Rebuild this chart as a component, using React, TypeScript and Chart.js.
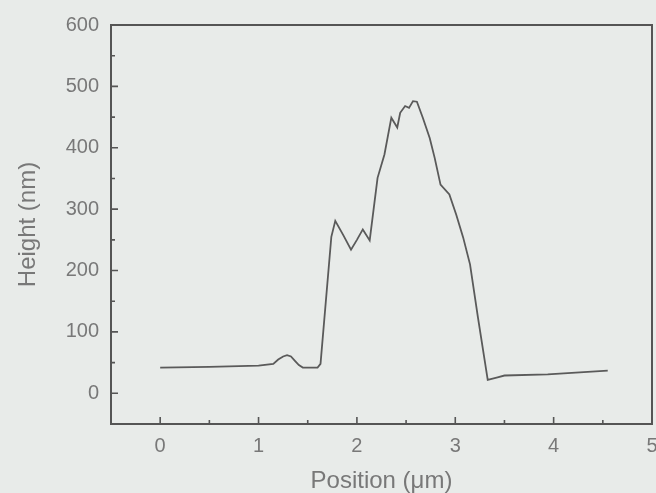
import React, { useEffect, useRef } from "react";
import { Chart, registerables } from "chart.js";

Chart.register(...registerables);

const positions = [
  0, 0.5, 1.0, 1.15, 1.2, 1.25, 1.29, 1.33, 1.37, 1.41, 1.45, 1.6, 1.63, 1.74,
  1.78, 1.86, 1.94, 2.0, 2.06, 2.13, 2.17, 2.21, 2.28, 2.35, 2.41, 2.44, 2.49,
  2.53, 2.57, 2.61, 2.67, 2.74, 2.79, 2.85, 2.94, 3.01, 3.08, 3.15, 3.23, 3.33,
  3.43, 3.5, 3.94, 4.55,
];
const heights = [
  42, 43, 45, 48, 55, 60, 62, 60, 53, 46, 42, 42, 48, 255, 281, 258, 234, 250,
  267, 249, 300, 351, 389, 449, 433, 457, 468, 465, 476, 475, 449, 416, 384,
  340, 324, 291, 254, 210, 124, 22, 26, 29, 31, 37,
];

const xTickValues = [0, 1, 2, 3, 4, 5];
const yTickValues = [0, 100, 200, 300, 400, 500, 600];
const xMinorValues = [0.5, 1.5, 2.5, 3.5, 4.5];
const yMinorValues = [50, 150, 250, 350, 450, 550];

const xTitle = "Position (\u03bcm)";
const yTitle = "Height (nm)";

const BG = "#e8ebe9";
const AXIS = "#555555";
const TEXT = "#787878";

const framePlugin = {
  id: "frame",
  beforeDraw(chart: any) {
    const ctx = chart.ctx;
    ctx.save();
    ctx.fillStyle = BG;
    ctx.fillRect(0, 0, chart.width, chart.height);
    ctx.restore();
  },
  afterDraw(chart: any) {
    const { ctx, chartArea } = chart;
    const xs = chart.scales.x;
    const ys = chart.scales.y;
    ctx.save();
    ctx.strokeStyle = AXIS;
    ctx.lineWidth = 2;
    ctx.strokeRect(
      chartArea.left,
      chartArea.top,
      chartArea.right - chartArea.left,
      chartArea.bottom - chartArea.top
    );
    ctx.lineWidth = 1.6;
    ctx.beginPath();
    const tickX = (v: number, len: number) => {
      const px = xs.getPixelForValue(v);
      ctx.moveTo(px, chartArea.bottom);
      ctx.lineTo(px, chartArea.bottom - len);
    };
    const tickY = (v: number, len: number) => {
      const py = ys.getPixelForValue(v);
      ctx.moveTo(chartArea.left, py);
      ctx.lineTo(chartArea.left + len, py);
    };
    xTickValues.forEach((v) => tickX(v, 7));
    xMinorValues.forEach((v) => tickX(v, 4));
    yTickValues.forEach((v) => tickY(v, 7));
    yMinorValues.forEach((v) => tickY(v, 4));
    ctx.stroke();
    ctx.restore();
  },
};

export default function App() {
  const ref = useRef<HTMLCanvasElement | null>(null);

  useEffect(() => {
    if (!ref.current) return;
    const chart = new Chart(ref.current, {
      type: "line",
      data: {
        datasets: [
          {
            data: positions.map((x, i) => ({ x, y: heights[i] })),
            borderColor: "#5a5a5a",
            borderWidth: 1.8,
            pointRadius: 0,
            tension: 0,
            fill: false,
          },
        ],
      },
      options: {
        responsive: false,
        animation: false,
        layout: { padding: { left: 0, top: 25, right: 4, bottom: 0 } },
        plugins: {
          legend: { display: false },
          tooltip: { enabled: false },
        },
        scales: {
          x: {
            type: "linear",
            min: -0.5,
            max: 5,
            grid: { display: false, drawTicks: false },
            border: { display: false },
            afterBuildTicks: (scale: any) => {
              scale.ticks = xTickValues.map((value) => ({ value }));
            },
            afterFit: (scale: any) => {
              scale.height = 69;
              scale.paddingLeft = 0;
              scale.paddingRight = 0;
            },
            ticks: {
              color: TEXT,
              padding: 10,
              maxRotation: 0,
              autoSkip: false,
              font: { family: "'Liberation Sans', Arial, sans-serif", size: 20 },
              callback: (v: any) => String(v),
            },
            title: {
              display: true,
              text: xTitle,
              color: TEXT,
              padding: { top: 0, bottom: 0 },
              font: {
                family: "'Liberation Sans', Arial, sans-serif",
                size: 24,
                lineHeight: 1,
              },
            },
          },
          y: {
            type: "linear",
            min: -50,
            max: 600,
            grid: { display: false, drawTicks: false },
            border: { display: false },
            afterBuildTicks: (scale: any) => {
              scale.ticks = yTickValues.map((value) => ({ value }));
            },
            afterFit: (scale: any) => {
              scale.width = 111;
              scale.paddingTop = 0;
              scale.paddingBottom = 0;
            },
            ticks: {
              color: TEXT,
              padding: 12,
              autoSkip: false,
              font: { family: "'Liberation Sans', Arial, sans-serif", size: 20 },
              callback: (v: any) => String(v),
            },
            title: {
              display: true,
              text: yTitle,
              color: TEXT,
              padding: { top: 16, bottom: 0 },
              font: {
                family: "'Liberation Sans', Arial, sans-serif",
                size: 24,
                lineHeight: 1,
              },
            },
          },
        },
      },
      plugins: [framePlugin],
    } as any);
    return () => chart.destroy();
  }, []);

  return (
    <div
      style={{
        position: "fixed",
        left: 0,
        top: 0,
        width: 656,
        height: 493,
        background: BG,
        overflow: "hidden",
      }}
    >
      <canvas
        ref={ref}
        width={656}
        height={493}
        style={{ display: "block", width: 656, height: 493 }}
      />
    </div>
  );
}
